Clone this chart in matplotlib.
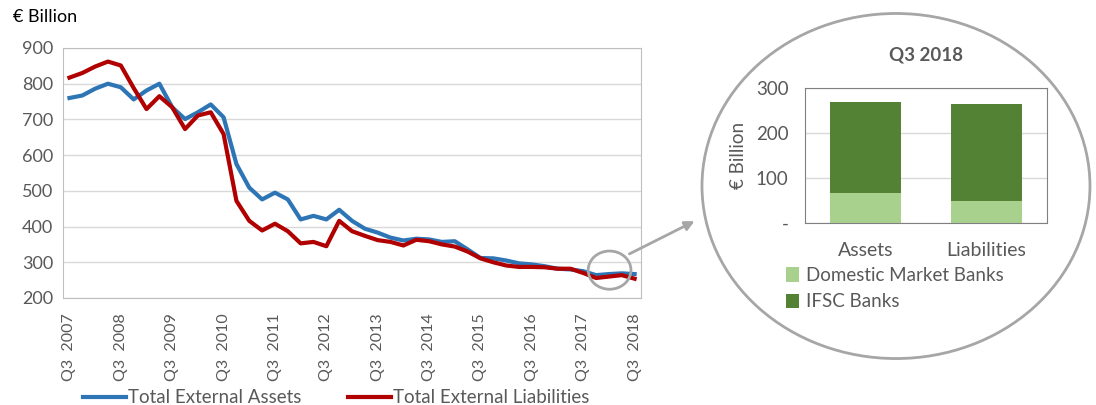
import matplotlib.pyplot as plt
from matplotlib.patches import Ellipse
import numpy as np

plt.rcParams['font.family'] = ['Lato', 'DejaVu Sans']

# quarterly data Q3 2007 .. Q3 2018, € billion
years = list(range(2007, 2019))
tick_labels = ["Q3  " + str(y) for y in years]

assets = [760, 767, 786, 800, 790, 756, 781, 800, 734, 701, 720, 742, 706,
          575, 509, 476, 495, 476, 420, 430, 420, 447, 416, 394, 383, 369,
          361, 366, 364, 357, 359, 336, 312, 311, 305, 297, 294, 289, 282,
          280, 275, 264, 267, 269, 267]
liabilities = [817, 830, 848, 862, 851, 788, 729, 765, 734, 673, 711, 720, 659,
               472, 416, 389, 408, 387, 353, 357, 345, 416, 387, 374, 362, 357,
               347, 363, 359, 350, 344, 330, 311, 300, 291, 287, 287, 286, 282,
               282, 270, 256, 260, 264, 254]

bar_cats = ["Assets", "Liabilities"]
domestic = [67, 49]
ifsc = [203, 215]

blue = "#2E75B6"
red = "#B00000"
light_green = "#A9D18E"
dark_green = "#548235"
grey = "#A6A6A6"
txt = "#595959"

fig = plt.figure(figsize=(10.96, 4.05), dpi=100)

# main line chart
ax = fig.add_axes([0.0575, 0.2642, 0.5274, 0.6173])
x = np.arange(len(assets))
ax.plot(x, assets, color=blue, lw=3, label="Total External Assets")
ax.plot(x, liabilities, color=red, lw=3, label="Total External Liabilities")
ax.set_xlim(-0.5, len(assets) - 0.5)
ax.set_ylim(200, 900)
ax.set_yticks(range(200, 901, 100))
ax.set_xticks(x[::4])
ax.set_xticklabels(tick_labels, rotation=90, fontsize=11.5, color=txt)
ax.tick_params(axis='y', labelsize=13, colors=txt, length=0, pad=7)
ax.tick_params(axis='x', length=0, pad=11)
ax.grid(axis='y', color="#D9D9D9", lw=1)
ax.set_axisbelow(True)
for s in ax.spines.values():
    s.set_color("#BFBFBF")
ax.legend(loc='upper left', bbox_to_anchor=(0.005, -0.297), ncol=2, frameon=False,
          fontsize=13.5, handlelength=2.3, handletextpad=0.1, columnspacing=2.5,
          labelcolor=txt)
fig.text(0.012, 0.958, "€ Billion", fontsize=13, color="black", va='center')

# highlight circle on the last quarters
ax.add_patch(Ellipse((42.05, 278), 3.33, 107, fill=False, ec=grey, lw=2,
                     clip_on=False, zorder=5))

# big circle around inset
fig.patches.append(Ellipse((0.8175, 0.5407), 0.354, 0.852, fill=False, ec=grey,
                           lw=2, transform=fig.transFigure))
ax.annotate("", xy=(0.636, 0.457), xycoords='figure fraction',
            xytext=(0.572, 0.370), textcoords='figure fraction',
            arrowprops=dict(arrowstyle='-|>', color=grey, lw=2, mutation_scale=14),
            annotation_clip=False)

# inset bar chart
bx = fig.add_axes([0.7345, 0.4494, 0.2208, 0.3333])
bxs = np.arange(len(bar_cats))
bx.bar(bxs, domestic, width=0.59, color=light_green, label="Domestic Market Banks")
bx.bar(bxs, ifsc, width=0.59, bottom=domestic, color=dark_green, label="IFSC Banks")
bx.set_xlim(-0.5, 1.5)
bx.set_ylim(0, 300)
bx.set_yticks([0, 100, 200, 300])
bx.set_yticklabels(["-", "100", "200", "300"])
bx.set_xticks(bxs)
bx.set_xticklabels(bar_cats)
bx.tick_params(axis='y', labelsize=13.5, colors=txt, length=0, pad=12)
bx.tick_params(axis='x', labelsize=14, colors=txt, length=0, pad=14)
bx.grid(axis='y', color="#D9D9D9", lw=1)
bx.set_axisbelow(True)
for s in bx.spines.values():
    s.set_color("#808080")
bx.set_ylabel("€ Billion", fontsize=13.5, color=txt, labelpad=6)
bx.set_title("Q3 2018", fontsize=13.5, fontweight='bold', color=txt, pad=20)
bx.legend(loc='upper left', bbox_to_anchor=(-0.15, -0.2), frameon=False,
          fontsize=13.5, handlelength=0.7, handleheight=0.8, handletextpad=0.4,
          labelspacing=0.5, labelcolor=txt)

fig.savefig("out.png", dpi=100)
